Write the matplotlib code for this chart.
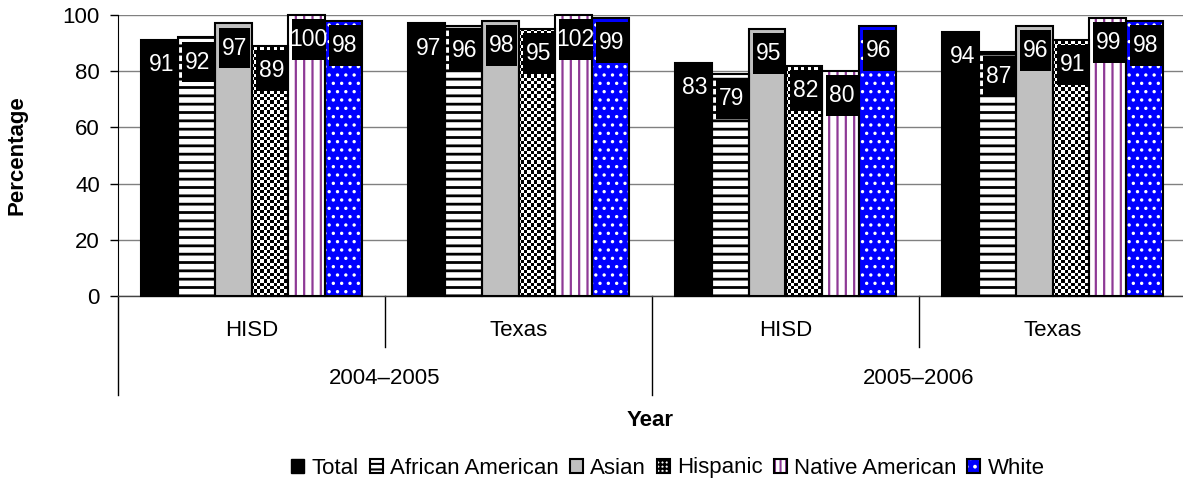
import numpy as np
import matplotlib
matplotlib.use('Agg')
import matplotlib.pyplot as plt
from matplotlib.patches import Patch, Rectangle
from matplotlib.legend_handler import HandlerTuple
from matplotlib.transforms import blended_transform_factory

# ---------------- data ----------------
categories = ['HISD', 'Texas', 'HISD', 'Texas']
years = ['2004–2005', '2005–2006']
series = ['Total', 'African American', 'Asian', 'Hispanic', 'Native American', 'White']
total = [91, 97, 83, 94]
african_american = [92, 96, 79, 87]
asian = [97, 98, 95, 96]
hispanic = [89, 95, 82, 91]
native_american = [100, 102, 80, 99]
white = [98, 99, 96, 98]
yticks = [0, 20, 40, 60, 80, 100]
values = [total, african_american, asian, hispanic, native_american, white]

plt.rcParams['font.family'] = ['Liberation Sans', 'DejaVu Sans']
plt.rcParams['hatch.linewidth'] = 1.5

FS = 16
W, H = 1183, 492
fig = plt.figure(figsize=(W / 100, H / 100), dpi=100)
ax = fig.add_axes([118 / W, 1 - 296 / H, 1068 / W, 281 / H])

ymax = yticks[-1]
ncat = len(categories)
x = np.arange(ncat)
w = 0.1375
purple = '#8E3A96'

# styles: (face, hatch, hatchcolor, hatch linewidth)
styles = [
    ('black', None, None, 1.0),
    ('white', '--', 'black', 2.0),
    ('#C0C0C0', None, None, 1.0),
    ('checker', None, None, 1.0),
    ('white', '||', purple, 1.6),
    ('#0000FF', '..', 'white', 1.2),
]

ax.set_xlim(-0.5, ncat - 0.5)
ax.set_ylim(0, ymax)

# checkerboard image for Hispanic
ncols_c = int(round(1068 / 3.3))
nrows_c = int(round(281 / 3.3))
checker = (np.indices((nrows_c, ncols_c)).sum(0) % 2).astype(float)

for j, (vals, st) in enumerate(zip(values, styles)):
    face, hatch, hcol, hlw = st
    pos = x + (j - 2.5) * w
    h = np.minimum(np.array(vals, dtype=float), ymax)
    with plt.rc_context({'hatch.linewidth': hlw}):
        if face == 'checker':
            bars = ax.bar(pos, h, width=w, color='white', linewidth=0, zorder=2, clip_on=False)
            for b in bars:
                im = ax.imshow(checker, cmap='gray', vmin=0, vmax=1,
                               extent=(-0.5, ncat - 0.5, 0, ymax), aspect='auto',
                               interpolation='nearest', zorder=2.1)
                im.set_clip_path(b)
        elif hatch is not None:
            ax.bar(pos, h, width=w, color=face, edgecolor=hcol, hatch=hatch,
                   linewidth=0, zorder=2, clip_on=False)
        else:
            ax.bar(pos, h, width=w, color=face, linewidth=0, zorder=2, clip_on=False)
    ax.bar(pos, h, width=w, facecolor='none', edgecolor='black', linewidth=1.5,
           zorder=3, clip_on=False)
    # labels
    for p, v, hh in zip(pos, vals, h):
        top = hh - 1.5
        bh = 14.5
        ax.add_patch(Rectangle((p + 0.04 * w - 0.43 * w, top - bh), 0.86 * w, bh,
                               facecolor='black', edgecolor='none', zorder=4, clip_on=False))
        ax.text(p + 0.04 * w, top - bh / 2, f'{v}', color='white', fontsize=16.5,
                ha='center', va='center', zorder=5)

ax.set_xlim(-0.5, ncat - 0.5)
ax.set_ylim(0, ymax)
ax.set_yticks(yticks)
ax.set_yticklabels([str(t) for t in yticks], fontsize=FS)
ax.tick_params(axis='y', length=6, width=1, pad=7, color='black')
ax.set_xticks([])
ax.yaxis.grid(True, color='#808080', linewidth=1)
ax.set_axisbelow(True)
for s in ['top', 'right']:
    ax.spines[s].set_visible(False)
ax.spines['left'].set_color('black')
ax.spines['bottom'].set_color('#444444')
ax.spines['bottom'].set_linewidth(1)

# multi-level category axis
trans = blended_transform_factory(ax.transData, ax.transAxes)
ah = 281.0
for i in range(ncat + 1):
    xb = i - 0.5
    long_line = (i % 2 == 0)
    yend = -99 / ah if long_line else -51 / ah
    ax.plot([xb, xb], [0, yend], transform=trans, color='black', lw=1, clip_on=False)
for i, c in enumerate(categories):
    ax.text(i, -34 / ah, c, transform=trans, ha='center', va='center', fontsize=FS)
for k, yr in enumerate(years):
    ax.text(2 * k + 0.5, -83 / ah, yr, transform=trans, ha='center', va='center', fontsize=FS)

fig.text(17 / W, 1 - 155 / H, 'Percentage', rotation=90, ha='center', va='center',
         fontsize=FS, fontweight='bold')
fig.text(650 / W, 1 - 420 / H, 'Year', ha='center', va='center', fontsize=FS,
         fontweight='bold')

# legend
with plt.rc_context({'hatch.linewidth': 2.0}):
    handles = [
        Patch(facecolor='black', edgecolor='black'),
        (Patch(facecolor='white', edgecolor='black', hatch='---', linewidth=0),
         Patch(facecolor='none', edgecolor='black', linewidth=1.5)),
        Patch(facecolor='#C0C0C0', edgecolor='black', linewidth=1.5),
        (Patch(facecolor='white', edgecolor='black', hatch='++++', linewidth=0),
         Patch(facecolor='none', edgecolor='black', linewidth=1.5)),
        (Patch(facecolor='white', edgecolor=purple, hatch='|||', linewidth=0),
         Patch(facecolor='none', edgecolor='black', linewidth=1.5)),
        (Patch(facecolor='#0000FF', edgecolor='white', hatch='..', linewidth=0),
         Patch(facecolor='none', edgecolor='black', linewidth=1.5)),
    ]
fig.legend(handles, series, loc='center', bbox_to_anchor=(668 / W, 1 - 468 / H),
           ncol=6, frameon=False, fontsize=FS, handlelength=0.585, handleheight=0.585,
           handletextpad=0.32, columnspacing=0.5, borderaxespad=0,
           handler_map={tuple: HandlerTuple(ndivide=1, pad=0)})

fig.savefig('out.png', dpi=100)
